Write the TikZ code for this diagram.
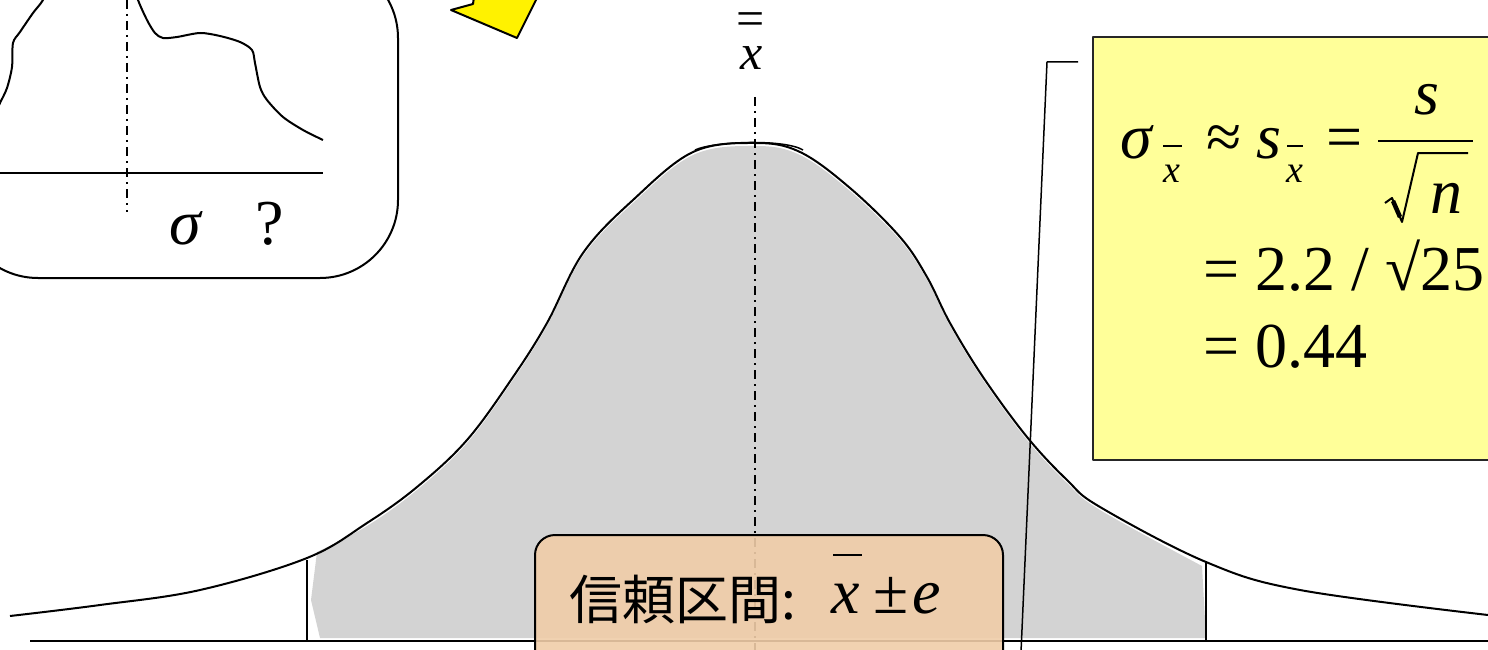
\documentclass[tikz,border=0pt]{standalone}
\usepackage{fontspec}
\setmainfont{Liberation Serif}
\newfontfamily\tnr{Liberation Serif}
\newfontfamily\cjkfont{Noto Sans CJK JP}
\definecolor{bellgray}{RGB}{211,211,211}
\definecolor{peach}{RGB}{240,205,168}
\definecolor{lightyellow}{RGB}{255,255,153}
\begin{document}
\begin{tikzpicture}[x=1pt,y=-1pt,line join=round,
  ln/.style={line width=2pt},
  dashdot/.style={line width=2pt,dash pattern=on 9pt off 5pt on 2pt off 5pt},
  big/.style={inner sep=0pt,font=\tnr\fontsize{64}{70}\selectfont},
  sub/.style={inner sep=0pt,font=\tnr\fontsize{38}{42}\selectfont},
  mid/.style={inner sep=0pt,font=\tnr\fontsize{50}{56}\selectfont},
  cjk/.style={inner sep=0pt,font=\fontsize{53}{60}\selectfont\cjkfont}]
\useasboundingbox (0,0) rectangle (1488,650);
\clip (0,0) rectangle (1488,650);

% ---- top-left inset box ----
\draw[ln,rounded corners=78] (-40,-40) rectangle (398,278);
\draw[ln] plot[smooth,tension=0.5] coordinates {(-4,112) (0,103) (7,88) (12,67) (13,43) (20,32) (33,13) (43,0) (52,-20)};
\draw[ln] plot[smooth,tension=0.5] coordinates {(132,-20) (138,0) (147,20) (155,33) (163,38) (177,37) (200,33) (220,36) (240,42) (252,50) (255,63) (260,87) (267,100) (283,117) (303,130) (323,140)};
\draw[ln] (0,173) -- (323,173);
\draw[dashdot] (127,0) -- (127,212);
\node[big,anchor=base west] (sigma) at (169,244) {\textit{σ}};
\node[big,anchor=base west] (qm) at (255,244) {?};

% ---- yellow arrow ----
\draw[ln,fill=yellow] (451,10) -- (473,4) -- (475,-10) -- (541,-10) -- (517,38) -- cycle;

% ---- grey area ----
\fill[bellgray] (320,638) -- (311,600) -- (317,552) -- plot[smooth,tension=0.6] coordinates {(317,552) (367,526) (417,490) (467,443) (513,380) (547,326) (583,256) (633,203) (693,155) (755,146) (800,155) (850,191) (900,240) (927,280) (950,326) (983,380) (1027,440) (1067,483) (1100,510) (1202,566)} -- (1206,638) -- cycle;

% ---- bell curve ----
\draw[ln] plot[smooth,tension=0.6] coordinates {(10,616) (100,605) (200,590) (307,558) (367,523) (417,487) (467,440) (513,377) (547,323) (583,253) (633,200) (693,152) (755,143) (800,152) (850,188) (900,237) (927,277) (950,323) (983,377) (1027,437) (1067,480) (1100,507) (1206,562) (1300,590) (1488,615)};
\draw[line width=1.5pt] (695,150) .. controls (715,141) and (785,139) .. (803,150);

% verticals and axis
\draw[ln] (307,560) -- (307,641);
\draw[ln] (1206,562) -- (1206,641);
\draw[ln] (30,641) -- (1488,641);
\draw[dashdot] (755,97) -- (755,650);

% grand mean label
\node[mid] (eqbar) at (751,24) {=};
\node[mid,anchor=base] (xbb) at (752,70) {\textit{x}};

% ---- callout line ----
\coordinate (c1) at (1078,62);
\coordinate (c2) at (1047,62);
\coordinate (c3) at (1021,652);
\draw[line width=1.5pt] (c1) -- (c2) -- (c3);

% ---- yellow formula box ----
\draw[ln,fill=lightyellow,draw=black!85] (1093,37) rectangle (1500,460);
\node[big,anchor=base west] (sg) at (1120,158) {\textit{σ}};
\node[sub,anchor=base] (sx1) at (1172,182) {\textit{x}};
\draw[line width=1.3pt] (1163,146) -- (1182,146);
\node[big,anchor=base] (apx) at (1224,158) {≈};
\node[big,anchor=base west] (ss) at (1256,158) {\textit{s}};
\node[sub,anchor=base] (sx2) at (1295,182) {\textit{x}};
\draw[line width=1.3pt] (1287,146) -- (1303,146);
\node[big,anchor=base] (eq1) at (1345,158) {=};
\draw[line width=2.5pt] (1378,141) -- (1473,141);
\node[big,anchor=base] (snum) at (1427,115) {\textit{s}};
\draw[line width=2pt] (1385,203) -- (1392,198) -- (1402,222) -- (1418,153) -- (1468,153);
\draw[line width=4.5pt] (1393,201) -- (1400,217);
\node[big,anchor=base] (nn) at (1446,213) {\textit{n}};
\node[big,anchor=base west] (line2) at (1203,290) {= 2.2 / √25};
\node[big,anchor=base west] (line3) at (1203,367) {= 0.44};

% ---- confidence interval box ----
\fill[peach,fill opacity=0.9] (535,535) [rounded corners=20] -- (1003,535) -- (1003,680) [sharp corners] -- (535,680) [rounded corners=20] -- cycle;
\draw[ln,rounded corners=20] (535,680) -- (535,535) -- (1003,535) -- (1003,680);
\node[cjk,anchor=base west] (ci) at (569,619) {信頼区間:};
\node[big,anchor=base west] (xm) at (831,613) {\textit{x}};
\draw[line width=2.5pt] (833,555) -- (862,555);
\node[big,anchor=base west] (pm) at (873,613) {±};
\node[big,anchor=base west] (ee) at (912,613) {\textit{e}};
\end{tikzpicture}
\end{document}
